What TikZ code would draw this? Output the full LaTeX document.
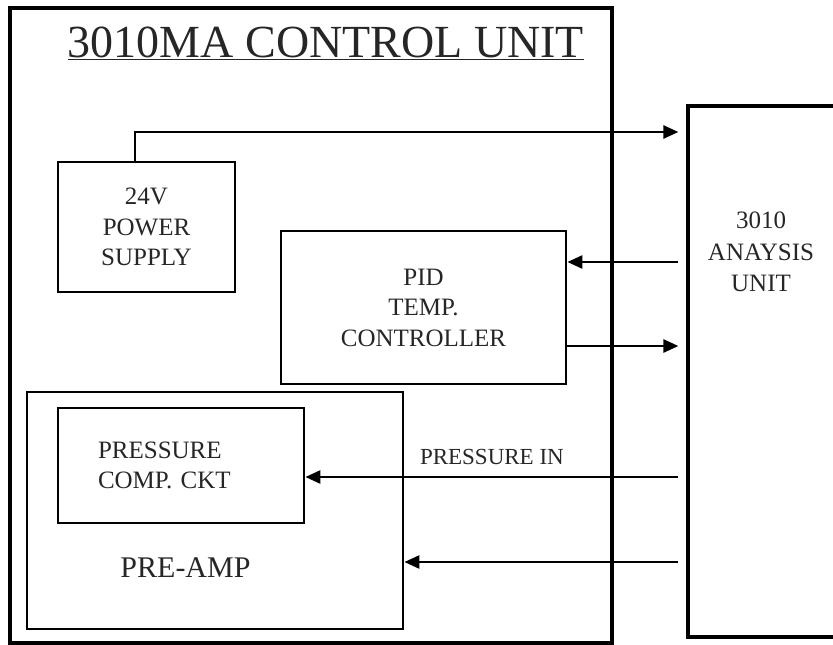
\documentclass[tikz,border=0pt]{standalone}
\usepackage{fontspec}
\setmainfont{Liberation Serif}
\usetikzlibrary{arrows.meta}

\begin{document}
\begin{tikzpicture}[
    x=1pt, y=-1pt,
    frame/.style={rectangle, draw, line width=3.2pt, inner sep=0pt},
    block/.style={rectangle, draw, line width=2.8pt, inner sep=0pt, align=center, font=\fontsize{25}{30.5}\selectfont, text=black!85},
    caption/.style={align=center, inner sep=0pt, text=black!85},
    link/.style={->, line width=2.6pt, >={Triangle[length=15pt,width=13pt]}}
]
\useasboundingbox (0,0) rectangle (833,645);
\clip (0,0) rectangle (833,645);

% --- 1. outer units ---
\node[frame, minimum width=602pt, minimum height=635pt] (ctrl) at (311,325.5) {};
\node[frame, minimum width=224pt, minimum height=531pt] (anal) at (800,371.5) {};
\node[frame, line width=2.8pt, minimum width=376pt, minimum height=237pt] (preamp) at (215,510.5) {};

% --- 2. blocks ---
\node[block, minimum width=177pt, minimum height=130pt] (power) at (146.5,227) {24V\\POWER\\SUPPLY};
\node[block, minimum width=285pt, minimum height=153pt] (pid) at (423.5,307.5) {PID\\TEMP.\\CONTROLLER};
\node[block, minimum width=246pt, minimum height=115pt, text width=166pt, align=left] (press) at (181,465.5) {PRESSURE\\COMP. CKT};

% --- 3. captions ---
\node[caption, anchor=base, font=\fontsize{46}{50}\selectfont] (title) at (326,57) {\underline{3010MA CONTROL UNIT}};
\node[caption, font=\fontsize{25}{31.5}\selectfont] (analtxt) at (761,252) {3010\\ANAYSIS\\UNIT};
\node[caption, anchor=base, font=\fontsize{30}{36}\selectfont] (amptxt) at (185.5,577) {PRE-AMP};

% --- 4. links ---
\coordinate (tipx) at ([xshift=-8pt]anal.west);
\draw[link] ([xshift=-11.5pt]power.north) |- (tipx |- 0,132);
\draw[link] (tipx |- 0,262) -- (pid.east |- 0,262);
\draw[link] (pid.east |- 0,346) -- (tipx |- 0,346);
\draw[link] (tipx |- 0,477) -- node[caption, above=11pt, font=\fontsize{23}{27}\selectfont] {PRESSURE IN} (press.east |- 0,477);
\draw[link] (tipx |- 0,562) -- (preamp.east |- 0,562);

\end{tikzpicture}
\end{document}
